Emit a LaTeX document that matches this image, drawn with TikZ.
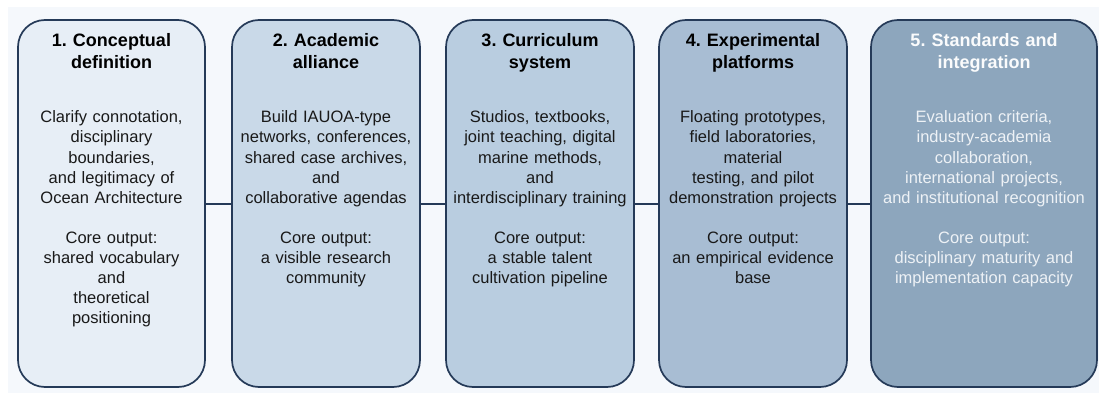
\documentclass[tikz,border=0pt]{standalone}
\usepackage{fontspec}
\setmainfont{Liberation Sans}
\frenchspacing
\definecolor{edge}{HTML}{253A58}
\definecolor{paper}{HTML}{F5F8FC}
\definecolor{fillA}{HTML}{E7EEF6}
\definecolor{fillB}{HTML}{C9D9E8}
\definecolor{fillC}{HTML}{B9CDE0}
\definecolor{fillD}{HTML}{A8BDD3}
\definecolor{fillE}{HTML}{8DA6BD}
\definecolor{pale}{HTML}{EEF2F6}
\tikzset{
	stage/.style={draw=edge, line width=1.7pt, rounded corners=27pt, minimum height=367pt, inner sep=0pt},
	link/.style={draw=edge, line width=2pt},
	head/.style={text width=#1, align=center, anchor=base, inner sep=0pt, font=\bfseries\fontsize{18}{22}\selectfont},
	body/.style={text width=#1, align=center, anchor=base, inner sep=0pt, font=\fontsize{16.5}{20}\selectfont, text=black!90}
}
\begin{document}
\begin{tikzpicture}[x=1pt, y=-1pt]
\useasboundingbox (0,0) rectangle (1099,393);
\fill[white] (0,0) rectangle (1099,393);
\fill[paper] (8,7) rectangle (1099,393);
% stage boxes
\foreach \i/\x/\w/\col in {1/111.5/187/fillA, 2/326/188/fillB, 3/540/188/fillC, 4/753/188/fillD, 5/984/226/fillE}
	\node[stage, fill=\col, minimum width=\w pt] (s\i) at (\x,203.5) {};
\foreach \a/\b in {1/2, 2/3, 3/4, 4/5}
	\draw[link] (s\a.east) -- (s\b.west);
% stage 1
\node[head=180pt] (h1) at (111.5,46.5) {1. Conceptual\\definition};
\node[body=180pt] (t1) at (111.5,123) {Clarify connotation,\\disciplinary\\boundaries,\\and legitimacy of\\Ocean Architecture};
\node[body=180pt] (o1) at (111.5,243) {Core output:\\shared vocabulary\\and\\theoretical\\positioning};
% stage 2
\node[head=180pt] (h2) at (326,46.5) {2. Academic\\alliance};
\node[body=180pt] (t2) at (326,123) {Build IAUOA-type\\networks, conferences,\\shared case archives,\\and\\collaborative agendas};
\node[body=180pt] (o2) at (326,243) {Core output:\\a visible research\\community};
% stage 3
\node[head=180pt] (h3) at (540,46.5) {3. Curriculum\\system};
\node[body=184pt] (t3) at (540,123) {Studios, textbooks,\\joint teaching, digital\\marine methods,\\and\\interdisciplinary training};
\node[body=180pt] (o3) at (540,243) {Core output:\\a stable talent\\cultivation pipeline};
% stage 4
\node[head=180pt] (h4) at (753,46.5) {4. Experimental\\platforms};
\node[body=180pt] (t4) at (753,123) {Floating prototypes,\\field laboratories,\\material\\testing, and pilot\\demonstration projects};
\node[body=180pt] (o4) at (753,243) {Core output:\\an empirical evidence\\base};
% stage 5
\node[head=220pt, text=white!96!fillE] (h5) at (984,46.5) {5. Standards and\\integration};
\node[body=220pt, text=pale] (t5) at (984,123) {Evaluation criteria,\\industry-academia\\collaboration,\\international projects,\\and institutional recognition};
\node[body=220pt, text=pale] (o5) at (984,243) {Core output:\\disciplinary maturity and\\implementation capacity};
\end{tikzpicture}
\end{document}
